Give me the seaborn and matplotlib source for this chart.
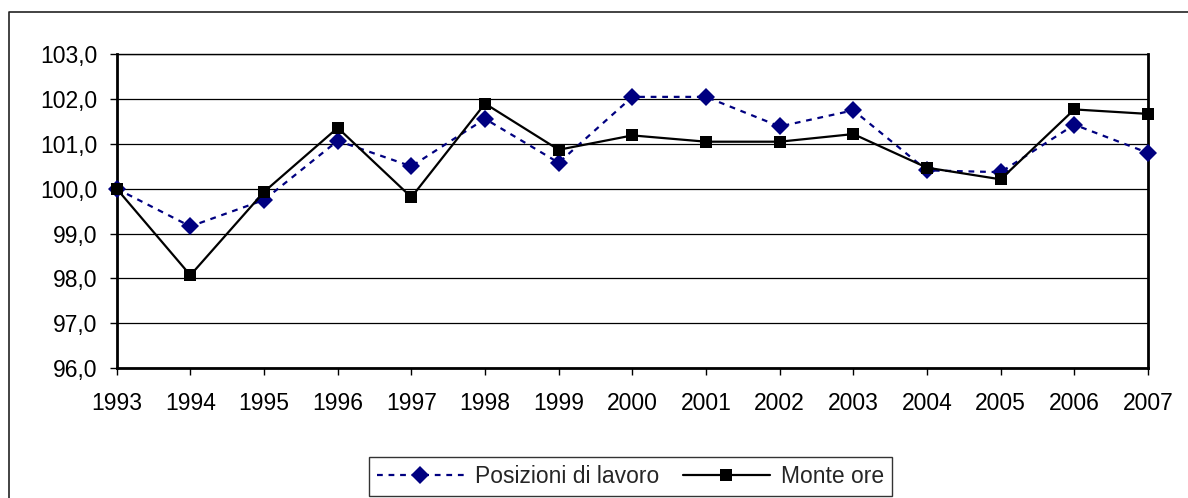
import matplotlib
matplotlib.use("Agg")
import matplotlib.pyplot as plt
import seaborn as sns
import pandas as pd
from matplotlib.ticker import FuncFormatter, FixedLocator
from matplotlib.lines import Line2D

years = ["1993", "1994", "1995", "1996", "1997", "1998", "1999", "2000",
         "2001", "2002", "2003", "2004", "2005", "2006", "2007"]
posizioni = [100.0, 99.16, 99.75, 101.07, 100.5, 101.56, 100.58, 102.05,
             102.05, 101.39, 101.75, 100.41, 100.37, 101.43, 100.8]
monte_ore = [100.0, 98.07, 99.93, 101.36, 99.81, 101.9, 100.87, 101.19,
             101.05, 101.05, 101.22, 100.47, 100.21, 101.77, 101.67]
series_names = ["Posizioni di lavoro", "Monte ore"]

sns.set_theme(style="white")
plt.rcParams['font.family'] = ['Liberation Sans', 'DejaVu Sans']

df = pd.DataFrame({"pos": list(range(len(years))),
                   "posizioni": posizioni, "monte": monte_ore})

fig = plt.figure(figsize=(11.88, 4.98), dpi=100)
ax = fig.add_axes([116.7 / 1188, 1 - 368 / 498, (1148 - 116.7) / 1188, (368 - 54.3) / 498])

ax.set_ylim(96, 103)
ax.set_xlim(0, len(years) - 1)
ax.yaxis.set_major_locator(FixedLocator([96, 97, 98, 99, 100, 101, 102, 103]))
ax.yaxis.grid(True, color="black", linewidth=0.9)
ax.set_axisbelow(True)

sns.lineplot(data=df, x="pos", y="posizioni", ax=ax, color="#000080",
             linestyle=(0, (2.6, 2.6)), linewidth=1.6, marker="D", markersize=9,
             markeredgewidth=0, label=series_names[0], clip_on=False, zorder=3)
sns.lineplot(data=df, x="pos", y="monte", ax=ax, color="black",
             linewidth=1.6, marker="s", markersize=9,
             markeredgewidth=0, label=series_names[1], clip_on=False, zorder=4)

ax.set_xticks(df["pos"])
ax.set_xticklabels(years)
ax.yaxis.set_major_formatter(FuncFormatter(lambda v, p: f"{v:.1f}".replace(".", ",")))
ax.set_xlabel("")
ax.set_ylabel("")
ax.tick_params(axis="both", which="major", labelsize=16.5, colors="black",
               direction="out", length=5, width=1, bottom=True, left=True)
ax.tick_params(axis="x", pad=12)
ax.tick_params(axis="y", pad=9)
for side in ["left", "bottom", "right"]:
    ax.spines[side].set_color("black")
    ax.spines[side].set_linewidth(2)
ax.spines["top"].set_color("black")
ax.spines["top"].set_linewidth(1)

ax.get_legend().remove()
handles, labels = ax.get_legend_handles_labels()
leg = fig.legend(handles, labels, loc="lower center", bbox_to_anchor=(630.5 / 1188, 0.0),
                 ncol=2, fontsize=16.5, frameon=True, fancybox=False, handlelength=3.8,
                 handletextpad=0.5, columnspacing=1.0, borderpad=0.35,
                 borderaxespad=0.1)
leg.get_frame().set_edgecolor("black")
leg.get_frame().set_linewidth(1)

# outer chart border
fig.add_artist(Line2D([9 / 1188, 9 / 1188, 1.0], [0.0, 1 - 12 / 498, 1 - 12 / 498],
                      transform=fig.transFigure, color="#222222", linewidth=1.2))

fig.savefig("out.png", dpi=100)
